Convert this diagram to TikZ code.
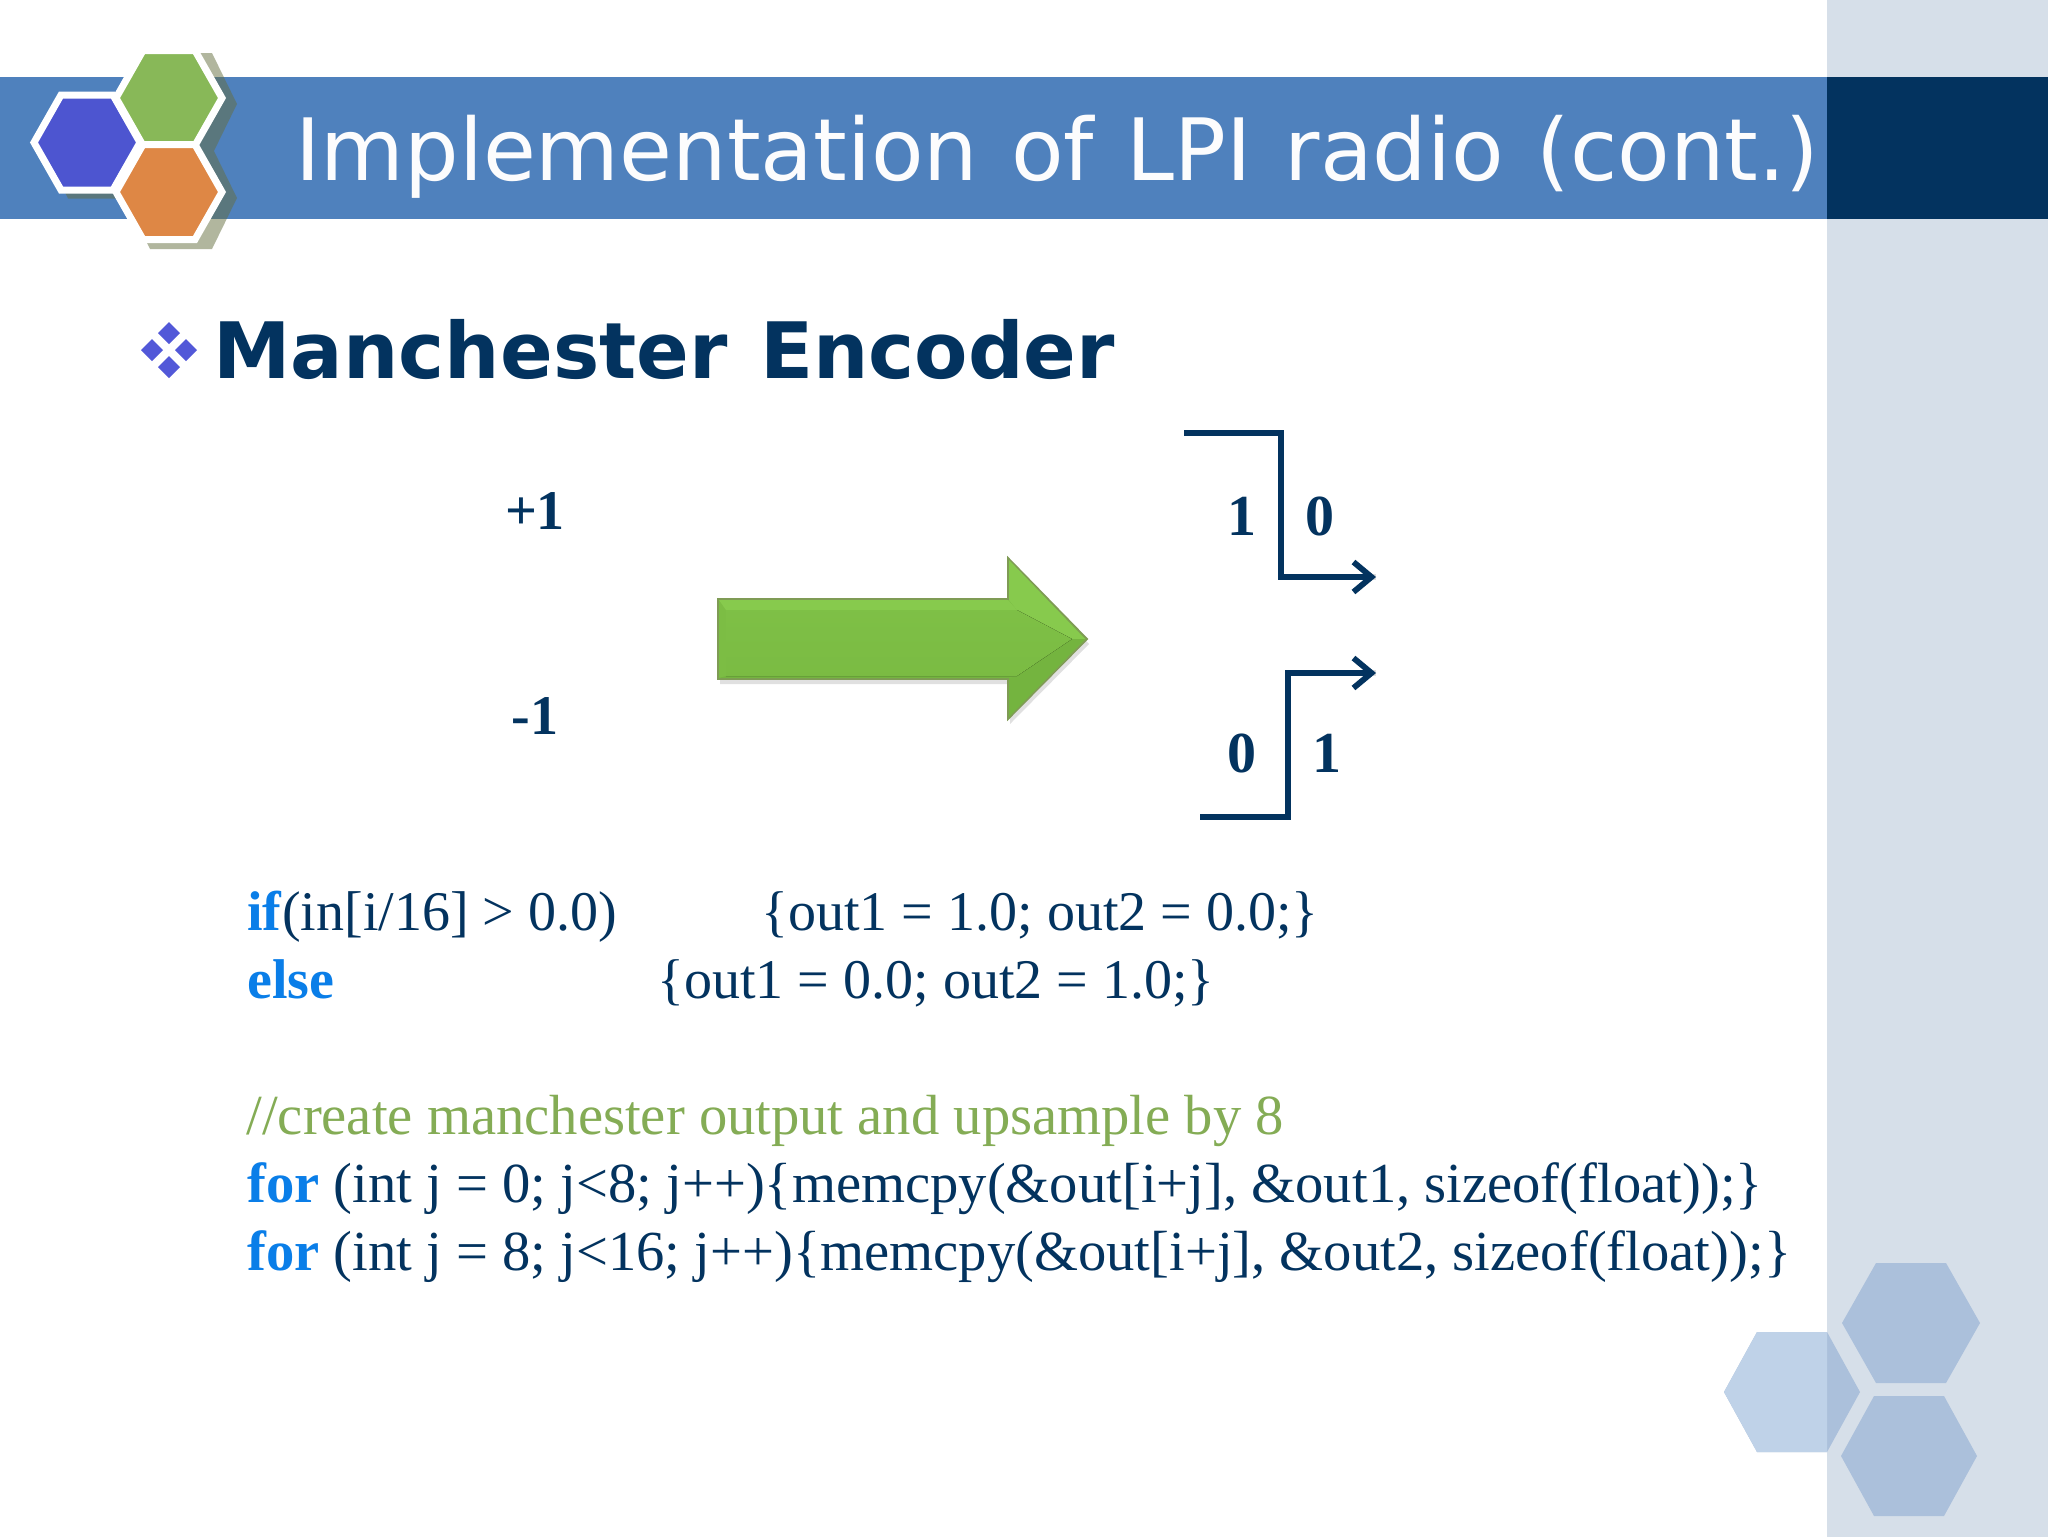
\documentclass[tikz,border=0pt]{standalone}
\usepackage{fontspec}
\setmainfont{Liberation Serif}
\newfontfamily\headfont{DejaVu Sans}
\newfontfamily\titlefont[WordSpace=1.2]{DejaVu Sans}
\usepackage{xcolor}
\usetikzlibrary{arrows.meta}
\usetikzlibrary{calc}
\definecolor{navy}{HTML}{03335F}
\definecolor{band}{HTML}{4F81BD}
\definecolor{panel}{HTML}{D6DFE9}
\definecolor{keyw}{HTML}{0A7EE8}
\definecolor{cmnt}{HTML}{84AC55}
\definecolor{hexblue}{HTML}{4D55D0}
\definecolor{hexgreen}{HTML}{88B858}
\definecolor{hexorange}{HTML}{DE8745}
\definecolor{hexshade}{HTML}{656F3F}
\definecolor{hexpale}{HTML}{ABC0DB}
\definecolor{hexpaler}{HTML}{BFD2E8}
\definecolor{bullet}{HTML}{5258D8}
\definecolor{arrowbase}{HTML}{7CBD44}
\definecolor{arrowlight}{HTML}{87CA4D}
\definecolor{arrowdark}{HTML}{74B43F}
\definecolor{arrowedge}{HTML}{7F9B55}
% hexagon round a centre: centre, half width, flat half width, half height
\newcommand{\hexa}[4]{($(#1)+(-#2,0)$) -- ($(#1)+(-#3,-#4)$) -- ($(#1)+(#3,-#4)$) -- ($(#1)+(#2,0)$) -- ($(#1)+(#3,#4)$) -- ($(#1)+(-#3,#4)$) -- cycle}
\tikzset{
	code/.style={anchor=base west, inner sep=0pt, text=navy, font=\fontsize{28.3}{33}\selectfont},
	codeif/.style={code, font=\fontsize{28}{33}\selectfont},
	digit/.style={inner sep=0pt, text=navy, font=\fontsize{29}{34}\selectfont\bfseries},
	level/.style={inner sep=0pt, text=navy, font=\fontsize{28}{33}\selectfont\bfseries},
	stepline/.style={draw=navy, line width=2.9pt, line join=miter},
	stepshade/.style={draw=black, opacity=.13, line width=2.9pt, yshift=-2pt},
	logohex/.style={draw=white, line width=3.5pt, line join=miter},
}
\begin{document}
\begin{tikzpicture}[x=.5pt, y=-.5pt, >={Straight Barb[length=9pt,width=15pt,line width=2.9pt]}]
		\useasboundingbox (0,0) rectangle (2048,1537);
		%coordinates
		\coordinate (hexG) at (169,98);
		\coordinate (hexB) at (87,142.5);
		\coordinate (hexO) at (169,192);
		\coordinate (hexT) at (1911,1323);
		\coordinate (hexL) at (1792,1392);
		\coordinate (hexD) at (1909,1456);

		\coordinate (topA) at (1184,433);
		\coordinate (topB) at (1281,433);
		\coordinate (topC) at (1281,577);
		\coordinate (topD) at (1376,577);
		\coordinate (botA) at (1200,817);
		\coordinate (botB) at (1288,817);
		\coordinate (botC) at (1288,673);
		\coordinate (botD) at (1376,673);

		%background
		\fill[white] (0,0) rectangle (2048,1537);
		\fill[panel] (1827,0) rectangle (2048,1537);
		\fill[band] (0,77) rectangle (1827,219);
		\fill[navy] (1827,77) rectangle (2048,219);

		%logo
		\fill[hexshade, opacity=.5] \hexa{$(hexB)+(12,5)$}{56}{31}{51} \hexa{$(hexG)+(12,6)$}{56}{31}{51} \hexa{$(hexO)+(12,6)$}{56}{31}{51};
		\path[logohex, fill=hexblue] \hexa{hexB}{53}{26}{47.5};
		\path[logohex, fill=hexgreen] \hexa{hexG}{53}{26}{47.5};
		\path[logohex, fill=hexorange] \hexa{hexO}{53}{26}{47.5};

		%corner hexagons
		\fill[hexpale] \hexa{hexT}{69}{35}{60};
		\fill[hexpale] \hexa{hexD}{68}{35}{60};
		\fill[hexpale] \hexa{hexL}{68}{35}{60};
		\begin{scope}
			\clip (0,0) rectangle (1827,1537);
			\fill[hexpaler] \hexa{hexL}{68}{35}{60};
		\end{scope}

		%title
		\node[anchor=base west, inner sep=0pt, text=white!92!panel, font=\titlefont\fontsize{43}{50}\selectfont] (title) at (295,180) {Implementation of LPI radio (cont.)};
		\node[anchor=base west, inner sep=0pt, text=navy, font=\headfont\bfseries\fontsize{38.9}{46}\selectfont] (head) at (213,378) {Manchester Encoder};
		\foreach \dx/\dy in {0/-17,0/17,-17/0,17/0}
			\fill[bullet] ($(169,350)+(\dx,\dy)$) +(-11,0) -- +(0,-11) -- +(11,0) -- +(0,11) -- cycle;

		%levels
		\node[level] (plus) at (535,511) {+1};
		\node[level] (minus) at (535,716) {-1};

		%big arrow
		\fill[black, opacity=.12] (720,604) -- (1010,604) -- (1010,563) -- (1089,644) -- (1010,724) -- (1010,684) -- (720,684) -- cycle;
		\path[draw=arrowedge, line width=.9pt, fill=arrowbase] (718,599) -- (1008,599) -- (1008,558) -- (1087,639) -- (1008,719) -- (1008,679) -- (718,679) -- cycle;
		\fill[arrowlight] (719,600) -- (1008,600) -- (1017,610) -- (726,610) -- cycle;
		\fill[arrowlight] (1009,560) -- (1085,639) -- (1072,639) -- (1017,610) -- (1009,600) -- cycle;
		\fill[arrowdark] (1009,717) -- (1085,639) -- (1072,639) -- (1017,676) -- (1009,678) -- cycle;
		\fill[arrowdark] (719,678) -- (1008,678) -- (1017,676) -- (726,676) -- cycle;
		\fill[top color=arrowbase!80!arrowlight, bottom color=arrowbase!80!arrowdark] (726,610) -- (1017,610) -- (1072,639) -- (1017,676) -- (726,676) -- cycle;

		%steps
		\draw[stepshade] (topA) -- (topB) -- (topC) -- (topD);
		\draw[stepshade] (botA) -- (botB) -- (botC) -- (botD);
		\draw[stepline, ->] (topA) -- (topB) -- (topC) -- (topD);
		\draw[stepline, ->] (botA) -- (botB) -- (botC) -- (botD);
		\node[digit] (a) at (1242,516) {1};
		\node[digit] (b) at (1320,516) {0};
		\node[digit] (c) at (1242,753) {0};
		\node[digit] (d) at (1327,753) {1};

		%code
		\node[codeif] (lineA) at (247,930) {\textcolor{keyw}{\textbf{if}}(in[i/16] > 0.0)};
		\node[codeif] (lineAb) at (761,930) {\{out1 = 1.0; out2 = 0.0;\}};
		\node[codeif] (lineB) at (247,998) {\textcolor{keyw}{\textbf{else}}};
		\node[codeif] (lineBb) at (657,998) {\{out1 = 0.0; out2 = 1.0;\}};
		\node[code, text=cmnt] (lineC) at (246,1134) {//create manchester output and upsample by 8};
		\node[code] (lineD) at (247,1202) {\textcolor{keyw}{\textbf{for}} (int j = 0; j<8; j++)\{memcpy(\&out[i+j], \&out1, sizeof(float));\}};
		\node[code] (lineE) at (247,1270) {\textcolor{keyw}{\textbf{for}} (int j = 8; j<16; j++)\{memcpy(\&out[i+j], \&out2, sizeof(float));\}};
\end{tikzpicture}
\end{document}
